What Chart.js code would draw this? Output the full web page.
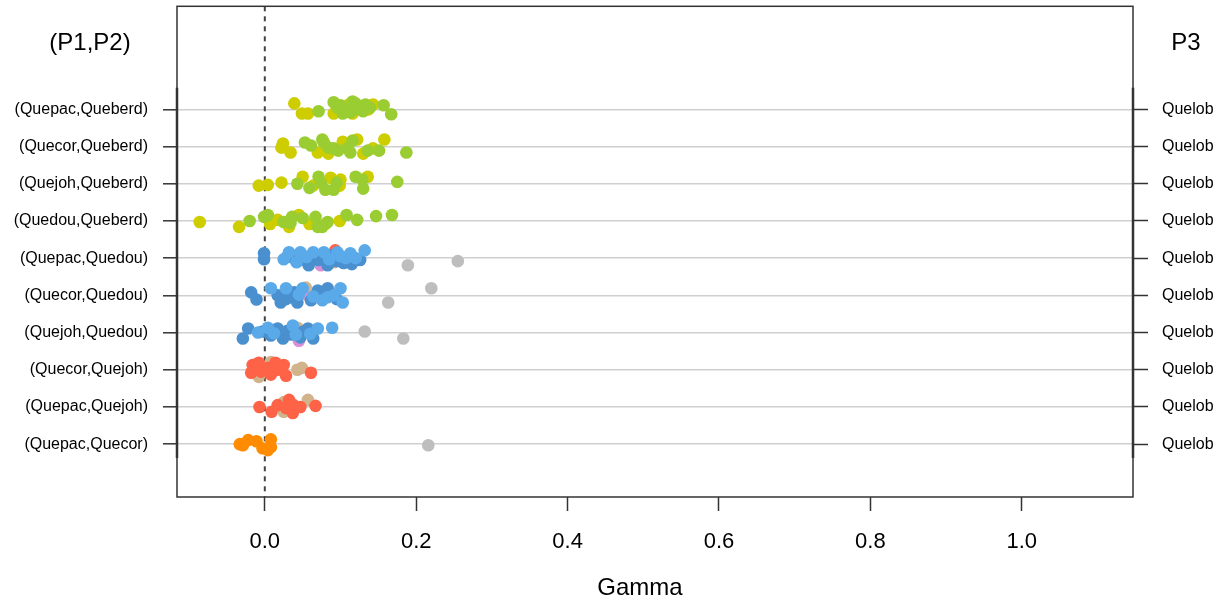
<!DOCTYPE html>
<html>
<head>
<meta charset="utf-8">
<title>Gamma</title>
<script src="https://cdn.jsdelivr.net/npm/chart.js@4.4.0/dist/chart.umd.min.js"></script>
<style>
  body { margin: 0; background: #fff; }
  #wrap { width: 1225px; height: 603px; }
</style>
</head>
<body>
<div id="wrap"><canvas id="gammaChart" width="1225" height="603"></canvas></div>
<script>
// row labels (top to bottom)
const rowLabels = ['(Quepac,Queberd)', '(Quecor,Queberd)', '(Quejoh,Queberd)', '(Quedou,Queberd)',
    '(Quepac,Quedou)', '(Quecor,Quedou)', '(Quejoh,Quedou)', '(Quecor,Quejoh)',
    '(Quepac,Quejoh)', '(Quepac,Quecor)'];
const p3Labels = ['Quelob', 'Quelob', 'Quelob', 'Quelob', 'Quelob',
    'Quelob', 'Quelob', 'Quelob', 'Quelob', 'Quelob'];
const xTicks = [0, 0.2, 0.4, 0.6, 0.8, 1.0];

// points: [row, gamma, vertical jitter]
const yellowPts = [
    [1, 0.039, -0.16], [1, 0.049, 0.11], [1, 0.057, 0.11], [1, 0.091, 0.11], [1, 0.111, -0.13],
    [1, 0.116, 0.11], [1, 0.126, -0.08], [1, 0.137, 0], [1, 0.143, -0.13], [1, 0.104, 0],
    [2, 0.024, -0.08], [2, 0.022, 0.03], [2, 0.034, 0.16], [2, 0.070, 0.16], [2, 0.084, 0.19],
    [2, 0.103, -0.13], [2, 0.122, -0.19], [2, 0.130, 0.19], [2, 0.143, 0.05], [2, 0.158, -0.19],
    [3, -0.008, 0.05], [3, 0.004, 0.03], [3, 0.022, -0.03], [3, 0.050, -0.19], [3, 0.064, 0.05],
    [3, 0.087, -0.16], [3, 0.100, -0.11], [3, 0.099, 0.05], [3, 0.136, -0.19],
    [4, -0.086, 0.03], [4, -0.034, 0.16], [4, 0.007, 0.08], [4, 0.032, 0.16], [4, 0.045, -0.16],
    [4, 0.059, 0.08], [4, 0.080, 0.08], [4, 0.099, 0], [4, 0.017, -0.03]
];
const greenPts = [
    [1, 0.071, 0.05], [1, 0.091, -0.19], [1, 0.100, -0.11], [1, 0.107, 0], [1, 0.113, 0.08],
    [1, 0.120, -0.16], [1, 0.124, 0], [1, 0.130, 0.05], [1, 0.133, -0.13], [1, 0.139, -0.05],
    [1, 0.157, -0.11], [1, 0.167, 0.13], [1, 0.103, 0.11], [1, 0.116, -0.21], [1, 0.096, -0.05],
    [2, 0.053, -0.11], [2, 0.061, -0.03], [2, 0.076, -0.19], [2, 0.078, -0.11], [2, 0.091, 0.05],
    [2, 0.109, 0.05], [2, 0.116, -0.16], [2, 0.113, 0.16], [2, 0.136, 0.11], [2, 0.151, 0.11],
    [2, 0.187, 0.16], [2, 0.097, 0.11], [2, 0.084, 0.03],
    [3, 0.043, 0], [3, 0.059, 0.11], [3, 0.071, -0.19], [3, 0.074, -0.03], [3, 0.091, 0.16],
    [3, 0.095, -0.03], [3, 0.120, -0.19], [3, 0.129, -0.11], [3, 0.130, 0.13], [3, 0.175, -0.05],
    [3, 0.080, 0.16],
    [4, -0.020, 0], [4, -0.001, -0.11], [4, 0.004, -0.16], [4, 0.025, 0.03], [4, 0.036, -0.11],
    [4, 0.050, -0.08], [4, 0.067, -0.11], [4, 0.070, 0.16], [4, 0.083, 0.03], [4, 0.108, -0.16],
    [4, 0.122, -0.03], [4, 0.147, -0.13], [4, 0.168, -0.16], [4, 0.076, 0.16], [4, 0.034, 0.05]
];
const blueDarkPts = [
    [5, -0.001, -0.13], [5, -0.001, 0.03], [5, 0.038, 0], [5, 0.051, 0.05], [5, 0.058, 0.19],
    [5, 0.071, 0.05], [5, 0.083, 0.19], [5, 0.104, 0.13], [5, 0.126, 0.05], [5, 0.089, -0.08],
    [5, 0.061, -0.05], [5, 0.030, -0.05], [5, 0.095, 0.08], [5, 0.115, 0.16],
    [6, -0.018, -0.08], [6, -0.011, 0.11], [6, 0.017, 0], [6, 0.021, 0.19], [6, 0.034, 0.05],
    [6, 0.043, 0.19], [6, 0.061, 0.13], [6, 0.070, -0.13], [6, 0.083, -0.19], [6, 0.039, -0.08],
    [6, 0.028, 0.10], [6, 0.095, 0.10],
    [7, -0.029, 0.16], [7, -0.022, -0.11], [7, 0.008, 0.08], [7, 0.017, -0.11], [7, 0.024, 0.16],
    [7, 0.030, -0.05], [7, 0.047, 0.13], [7, 0.057, -0.11], [7, 0.064, 0.16], [7, -0.003, -0.03],
    [7, 0.035, 0.05], [7, 0.050, -0.02]
];
const blueLightPts = [
    [5, 0.025, 0.03], [5, 0.032, -0.16], [5, 0.047, -0.16], [5, 0.064, -0.16], [5, 0.078, -0.16],
    [5, 0.096, -0.16], [5, 0.113, -0.13], [5, 0.120, 0], [5, 0.132, -0.21], [5, 0.042, 0.11],
    [5, 0.107, 0], [5, 0.055, -0.03], [5, 0.085, 0.03], [5, 0.100, -0.05],
    [6, 0.008, -0.19], [6, 0.028, -0.19], [6, 0.050, -0.19], [6, 0.076, 0.13], [6, 0.091, 0],
    [6, 0.100, -0.19], [6, 0.103, 0.19], [6, 0.064, 0.03], [6, 0.045, -0.02], [6, 0.083, 0.05],
    [7, -0.009, 0], [7, 0.004, -0.13], [7, 0.037, -0.19], [7, 0.070, -0.11], [7, 0.089, -0.13],
    [7, 0.041, 0.05], [7, 0.012, 0.02], [7, 0.060, 0.03]
];
const pinkPts = [[5, 0.074, 0.19], [6, 0.050, -0.05], [7, 0.045, 0.22]];
const tanPts = [
    [5, 0.091, 0.11], [5, 0.087, -0.05], [6, 0.054, -0.21], [6, 0.057, 0], [7, 0.043, -0.13],
    [8, -0.008, 0.19], [8, 0.008, -0.21], [8, 0.043, 0], [8, 0.049, -0.05],
    [9, 0.025, -0.13], [9, 0.025, 0.13], [9, 0.057, -0.19]
];
const redPts = [
    [5, 0.093, -0.21],
    [8, -0.016, -0.13], [8, -0.018, 0.08], [8, -0.008, -0.19], [8, -0.005, 0.05], [8, 0.008, 0.13],
    [8, 0.014, -0.19], [8, 0.017, 0], [8, 0.025, -0.13], [8, 0.028, 0.16], [8, 0.061, 0.08],
    [8, 0.004, -0.05],
    [9, -0.007, 0], [9, 0.009, 0.13], [9, 0.032, -0.19], [9, 0.037, 0.16], [9, 0.038, -0.05],
    [9, 0.047, 0], [9, 0.067, -0.03], [9, 0.017, -0.05], [9, 0.028, 0.03]
];
const orangePts = [
    [10, -0.033, 0], [10, -0.022, -0.11], [10, -0.011, -0.08], [10, -0.003, 0.11],
    [10, 0.004, 0.16], [10, 0.008, -0.13], [10, 0.008, 0.08], [10, -0.029, 0.03]
];
const grayPts = [
    [5, 0.189, 0.19], [5, 0.255, 0.08], [6, 0.163, 0.19], [6, 0.220, -0.19],
    [7, 0.132, -0.03], [7, 0.183, 0.16], [10, 0.216, 0.03]
];

function toPoints(list) {
    return list.map(p => ({ x: p[1], y: p[0] + p[2] }));
}

function dotSet(list, color) {
    return {
        data: toPoints(list),
        backgroundColor: color,
        borderWidth: 0,
        pointRadius: 6.3,
        pointHoverRadius: 6.3
    };
}

const Y_MIN = -1.77;
const Y_MAX = 11.42;
const rowTicks = rowLabels.map((l, i) => ({ value: i + 1 }));

// y axes: fixed width, no extra padding for tick labels
function fitY(width) {
    return s => {
        s.width = width;
        s.paddingTop = 0;
        s.paddingBottom = 0;
    };
}

// frame, dashed zero line, axis segments and corner titles
const framePlugin = {
    id: 'frame',
    beforeDatasetsDraw(chart) {
        const ctx = chart.ctx;
        const a = chart.chartArea;
        const x0 = chart.scales.x.getPixelForValue(0);
        ctx.save();
        ctx.strokeStyle = '#444';
        ctx.lineWidth = 2;
        ctx.setLineDash([5, 5]);
        ctx.beginPath();
        ctx.moveTo(x0, a.top);
        ctx.lineTo(x0, a.bottom);
        ctx.stroke();
        ctx.restore();
    },
    afterDraw(chart) {
        const ctx = chart.ctx;
        const a = chart.chartArea;
        const y = chart.scales.y;
        ctx.save();
        ctx.strokeStyle = '#333';
        ctx.lineWidth = 1.5;
        ctx.strokeRect(a.left, a.top, a.right - a.left, a.bottom - a.top);
        // y axis lines spanning the rows
        ctx.lineWidth = 2.5;
        ctx.beginPath();
        ctx.moveTo(a.left, y.getPixelForValue(0.42));
        ctx.lineTo(a.left, y.getPixelForValue(10.37));
        ctx.moveTo(a.right, y.getPixelForValue(0.42));
        ctx.lineTo(a.right, y.getPixelForValue(10.37));
        ctx.stroke();

        ctx.fillStyle = '#000';
        ctx.textAlign = 'center';
        ctx.textBaseline = 'middle';
        ctx.font = '24px "Liberation Sans", Arial, sans-serif';
        ctx.fillText('(P1,P2)', 90, 43);
        ctx.fillText('P3', 1186, 43);
        ctx.fillText('Gamma', 640, 588);
        ctx.restore();
    }
};

document.addEventListener('DOMContentLoaded', function() {
    const ctx = document.getElementById('gammaChart');
    new Chart(ctx, {
        type: 'scatter',
        data: {
            datasets: [
                dotSet(grayPts, '#BEBEBE'),
                dotSet(greenPts, '#9ACD32'),
                dotSet(yellowPts, '#CDCD00'),
                dotSet(blueLightPts, '#5AAAEA'),
                dotSet(blueDarkPts, '#4A90CF'),
                dotSet(pinkPts, '#D98FD5'),
                dotSet(redPts, '#FF6347'),
                dotSet(tanPts, '#D2B48C'),
                dotSet(orangePts, '#FF8C00')
            ]
        },
        options: {
            responsive: false,
            animation: false,
            layout: { padding: { top: 4, right: 0, left: 0, bottom: 0 } },
            plugins: {
                legend: { display: false },
                tooltip: { enabled: false }
            },
            scales: {
                x: {
                    type: 'linear',
                    min: -0.116,
                    max: 1.147,
                    afterBuildTicks: s => { s.ticks = xTicks.map(v => ({ value: v })); },
                    afterFit: s => { s.height = 106; },
                    border: { display: false },
                    grid: {
                        drawOnChartArea: false,
                        drawTicks: true,
                        tickLength: 14,
                        tickColor: '#333',
                        tickWidth: 1.5
                    },
                    ticks: {
                        padding: 18,
                        color: '#000',
                        font: { family: '"Liberation Sans", Arial, sans-serif', size: 22 },
                        callback: v => v.toFixed(1)
                    }
                },
                y: {
                    type: 'linear',
                    position: 'left',
                    reverse: true,
                    min: Y_MIN,
                    max: Y_MAX,
                    afterBuildTicks: s => { s.ticks = rowTicks.map(t => ({ value: t.value })); },
                    afterFit: fitY(177),
                    border: { display: false },
                    grid: {
                        color: '#cfcfcf',
                        lineWidth: 1.6,
                        drawTicks: true,
                        tickLength: 14,
                        tickColor: '#333',
                        tickWidth: 1.5
                    },
                    ticks: {
                        padding: 15,
                        color: '#000',
                        font: { family: '"Liberation Sans", Arial, sans-serif', size: 16 },
                        callback: v => rowLabels[Math.round(v) - 1]
                    }
                },
                y2: {
                    type: 'linear',
                    position: 'right',
                    reverse: true,
                    min: Y_MIN,
                    max: Y_MAX,
                    afterBuildTicks: s => { s.ticks = rowTicks.map(t => ({ value: t.value })); },
                    afterFit: fitY(92),
                    border: { display: false },
                    grid: {
                        drawOnChartArea: false,
                        drawTicks: true,
                        tickLength: 15,
                        tickColor: '#333',
                        tickWidth: 1.5
                    },
                    ticks: {
                        padding: 14,
                        color: '#000',
                        font: { family: '"Liberation Sans", Arial, sans-serif', size: 16 },
                        callback: v => p3Labels[Math.round(v) - 1]
                    }
                }
            }
        },
        plugins: [framePlugin]
    });
});
</script>
</body>
</html>
